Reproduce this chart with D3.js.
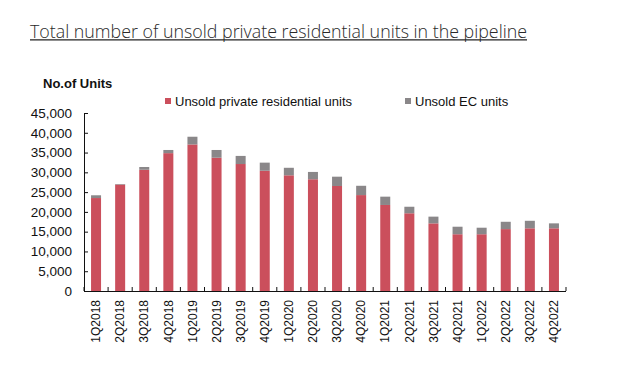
<!DOCTYPE html>
<html><head><meta charset="utf-8">
<script src="https://cdn.jsdelivr.net/npm/d3@7"></script>
<style>
body{margin:0;background:#fff;}
svg{display:block;}
</style></head>
<body><svg id="c" width="623" height="368"></svg>
<script>
const categories = ["1Q2018","2Q2018","3Q2018","4Q2018","1Q2019","2Q2019","3Q2019","4Q2019","1Q2020","2Q2020","3Q2020","4Q2020","1Q2021","2Q2021","3Q2021","4Q2021","1Q2022","2Q2022","3Q2022","4Q2022"];
const privateUnits = [23500,26900,30650,34850,37050,33700,32100,30400,29250,28250,26550,24250,21750,19650,17100,14350,14350,15650,15850,15850];
const ecUnits = [700,150,700,800,1950,1950,2050,2050,1900,1850,2350,2350,2100,1650,1700,1900,1650,1850,1900,1250];
const yTicks = [0,5000,10000,15000,20000,25000,30000,35000,40000,45000];
const seriesNames = ["Unsold private residential units","Unsold EC units"];
const colors = ["#cb4f5c","#8a8789"];

const svg = d3.select("#c");
const mLeft = 84, mRight = 566, mTop = 113, mBottom = 291;

svg.append("text").attr("x",30).attr("y",37.5)
  .attr("font-family","'Open Sans', 'Noto Sans', sans-serif").attr("font-weight",300)
  .attr("font-size",17.5).attr("fill","#2a2a2a")
  .attr("textLength",497).attr("lengthAdjust","spacingAndGlyphs")
  .text("Total number of unsold private residential units in the pipeline");
svg.append("line").attr("x1",30).attr("x2",527).attr("y1",39.8).attr("y2",39.8)
  .attr("stroke","#222").attr("stroke-width",1.3);

svg.append("text").attr("x",43).attr("y",88)
  .attr("font-family","'Liberation Sans', Arial, sans-serif").attr("font-weight","bold")
  .attr("font-size",13).attr("fill","#111").text("No.of Units");

const x = d3.scaleBand().domain(categories).range([mLeft,mRight]).paddingInner(0.585).paddingOuter(0.2925);
const y = d3.scaleLinear().domain([0,45000]).range([mBottom,mTop]);

const data = categories.map((c,i)=>({cat:c, p:privateUnits[i], e:ecUnits[i]}));
const stack = d3.stack().keys(["p","e"])(data);

svg.append("g").selectAll("g").data(stack).join("g")
  .attr("fill",(d,i)=>colors[i])
  .selectAll("rect").data(d=>d).join("rect")
  .attr("x",d=>x(d.data.cat)).attr("width",x.bandwidth())
  .attr("y",d=>y(d[1])).attr("height",d=>y(d[0])-y(d[1]));

// y axis
const yAxis = d3.axisLeft(y).tickValues(yTicks).tickSize(-4).tickSizeOuter(0).tickPadding(12)
  .tickFormat(d3.format(","));
const ga = svg.append("g").attr("transform",`translate(${mLeft},0)`).call(yAxis);
ga.selectAll("text").attr("font-family","'Liberation Sans', Arial, sans-serif").attr("font-size",13.5).attr("fill","#111");
ga.selectAll("line,path").attr("stroke","#111");

// x axis
svg.append("line").attr("x1",mLeft).attr("x2",mRight).attr("y1",mBottom+0.5).attr("y2",mBottom+0.5).attr("stroke","#111");
const step = x.step();
const bounds = categories.map(c=>x(c) - step*x.paddingInner()/2);
bounds.push(x(categories[categories.length-1]) + x.bandwidth() + step*x.paddingInner()/2);
svg.append("g").selectAll("line").data(bounds).join("line")
  .attr("x1",d=>d).attr("x2",d=>d).attr("y1",mBottom).attr("y2",mBottom-4).attr("stroke","#111");
svg.append("g").selectAll("text").data(categories).join("text")
  .attr("transform",d=>`translate(${x(d)+x.bandwidth()/2},300) rotate(-90)`)
  .attr("text-anchor","end").attr("dy","0.35em")
  .attr("font-family","'Liberation Sans', Arial, sans-serif").attr("font-size",12).attr("fill","#111")
  .text(d=>d);

// legend
const legX = [165,405];
const lg = svg.append("g").selectAll("g").data(seriesNames).join("g")
  .attr("transform",(d,i)=>`translate(${legX[i]},101)`);
lg.append("rect").attr("x",0).attr("y",-3).attr("width",6).attr("height",6).attr("fill",(d,i)=>colors[i]);
lg.append("text").attr("x",10).attr("dy","0.35em")
  .attr("font-family","'Liberation Sans', Arial, sans-serif").attr("font-size",13).attr("fill","#111")
  .text(d=>d);
</script></body></html>
